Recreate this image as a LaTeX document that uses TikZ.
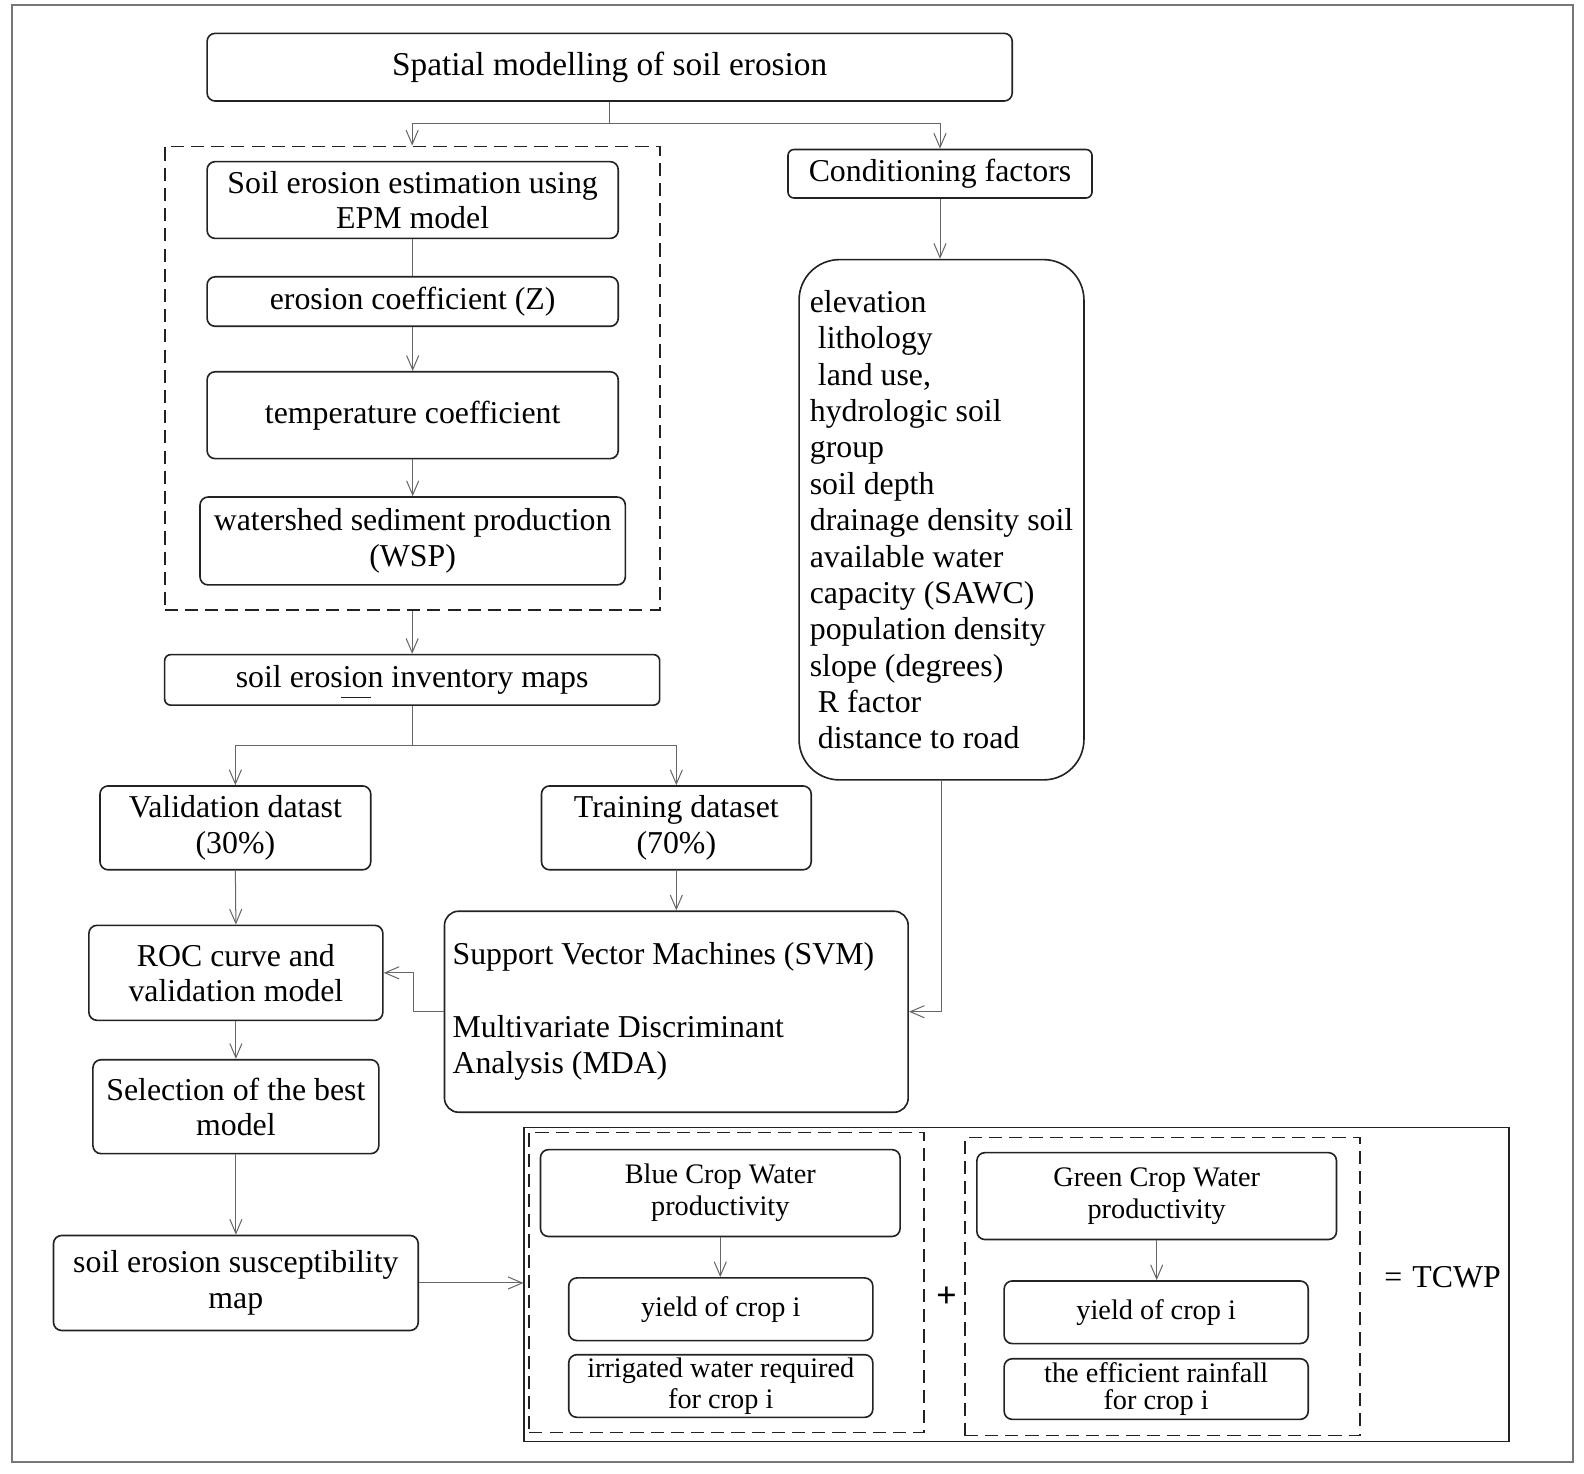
\documentclass[tikz,border=0pt]{standalone}
\usepackage{fontspec}
\setmainfont{Liberation Serif}
\usetikzlibrary{arrows.meta}
\definecolor{boxc}{HTML}{222222}
\definecolor{linec}{HTML}{666666}
\definecolor{framec}{HTML}{777777}
\newcommand\mybody{\fontsize{31.5}{35}\selectfont}
\newcommand\mytitle{\fontsize{33}{38}\selectfont}
\newcommand\mysmall{\fontsize{28}{32}\selectfont}
\begin{document}
\begin{tikzpicture}[x=1pt,y=-1pt,
  box/.style={draw=boxc, line width=1.6pt, rounded corners=8pt, align=center, inner sep=0pt, font=\mybody},
  sbox/.style={box, font=\mysmall},
  dbox/.style={draw=boxc, line width=1.8pt, dash pattern=on 13pt off 7pt, inner sep=0pt},
  sz/.style 2 args={minimum width=#1pt, minimum height=#2pt},
  conn/.style={draw=linec, line width=1pt},
  arr/.style={conn, -{Straight Barb[length=14pt,width=12pt]}},
]
\useasboundingbox (0,0) rectangle (1568,1459);
\draw[draw=framec, line width=2pt] (12,5) rectangle (1557,1447);

% top
\node[box, sz={797}{67}, font=\mytitle] (title) at (603.5,66.5) {Spatial modelling of soil erosion};

% EPM group
\node[dbox, sz={490}{459}] (epm) at (408,374.5) {};
\node[box, sz={407}{76}] (est) at (408.5,198) {Soil erosion estimation using\\EPM model};
\node[box, sz={407}{49}] (ecoef) at (408.5,298.5) {erosion coefficient (Z)};
\node[box, sz={407}{86}] (temp) at (408.5,411) {temperature coefficient};
\node[box, sz={421}{87}] (wsp) at (408.5,535.5) {watershed sediment production\\(WSP)};

\node[box, rounded corners=6pt, sz={490}{50}] (inv) at (408,673) {soil erosion inventory maps};
\draw[boxc, line width=1pt] (338,690) -- (367,690);

% conditioning
\node[box, rounded corners=6pt, sz={301}{48}] (cond) at (930.5,172) {Conditioning factors};
\node[box, rounded corners=40pt, sz={282}{515}, align=flush left, font=\fontsize{31.5}{36}\selectfont] (fac) at (932,514.5)
 {elevation\\
  \hspace*{8pt}lithology\\
  \hspace*{8pt}land use,\\
  hydrologic soil\\
  group\\
  soil depth\\
  drainage density soil\\
  available water\\
  capacity (SAWC)\\
  population density\\
  slope (degrees)\\
  \hspace*{8pt}R factor\\
  \hspace*{8pt}distance to road};

% datasets
\node[box, sz={268}{83}] (val) at (233,819.5) {Validation datast\\(30\%)};
\node[box, sz={267}{83}] (train) at (669.5,819.5) {Training dataset\\(70\%)};
\node[box, sz={291}{94}] (roc) at (233.5,963) {ROC curve and\\validation model};
\node[box, rounded corners=14pt, sz={459}{199}, text width=443pt, inner xsep=8pt, align=flush left, font=\fontsize{31.5}{36}\selectfont] (svm) at (669.5,1001.5)
 {Support Vector Machines (SVM)\\[36pt]Multivariate Discriminant\\Analysis (MDA)};
\node[box, sz={283}{93}] (sel) at (233.5,1095.5) {Selection of the best\\model};
\node[box, sz={361}{94}] (sus) at (233.5,1270) {soil erosion susceptibility\\map};

% bottom panel
\node[draw=boxc, line width=1.6pt, inner sep=0pt, sz={975}{311}] (big) at (1006.5,1271.5) {};
\node[dbox, sz={391}{297}] (dl) at (719.5,1269.5) {};
\node[dbox, sz={391}{295}] (dr) at (1150.5,1273.5) {};
\node[sbox, sz={356}{86}] (blue) at (713,1181) {Blue Crop Water\\productivity};
\node[sbox, sz={301}{62}] (yl) at (713.5,1296) {yield of crop i};
\node[sbox, sz={301}{62}, font=\fontsize{28}{31}\selectfont] (irr) at (713.5,1372) {irrigated water required\\for crop i};
\node[sbox, sz={356}{86}] (green) at (1145,1184) {Green Crop Water\\productivity};
\node[sbox, sz={301}{62}] (yr) at (1144.5,1299) {yield of crop i};
\node[sbox, sz={301}{60}, font=\fontsize{28}{27}\selectfont] (eff) at (1144.5,1375) {the efficient rainfall\\for crop i};
\node[font=\fontsize{36}{40}\selectfont\bfseries, inner sep=0pt] (plus) at (937,1284) {+};
\node[font=\fontsize{31.5}{35}\selectfont, inner sep=0pt] (tcwp) at (1428,1264) {=\hspace{10pt}TCWP};

% connectors
\draw[conn] (title.south) -- (603.5,122) coordinate (j1);
\draw[arr] (j1) -| (epm.north);
\draw[arr] (j1) -| (cond.north);
\draw[conn] (est.south) -- (ecoef.north);
\draw[arr] (ecoef.south) -- (temp.north);
\draw[arr] (temp.south) -- (wsp.north);
\draw[arr] (epm.south) -- (inv.north);
\draw[conn] (inv.south) -- (408,738) coordinate (j2);
\draw[arr] (j2) -| (val.north);
\draw[arr] (j2) -| (train.north);
\draw[arr] (cond.south) -- (cond.south |- fac.north);
\draw[arr] (fac.south) |- (svm.east);
\draw[arr] (train.south) -- (svm.north);
\draw[arr] (svm.west) -- (409,1001.5) |- (roc.east);
\draw[arr] (val.south) -- (roc.north);
\draw[arr] (roc.south) -- (sel.north);
\draw[arr] (sel.south) -- (sus.north);
\draw[arr] (sus.east) -- (sus.east -| big.west);
\draw[arr] (blue.south) -- (blue.south |- yl.north);
\draw[arr] (green.south) -- (green.south |- yr.north);
\end{tikzpicture}
\end{document}
